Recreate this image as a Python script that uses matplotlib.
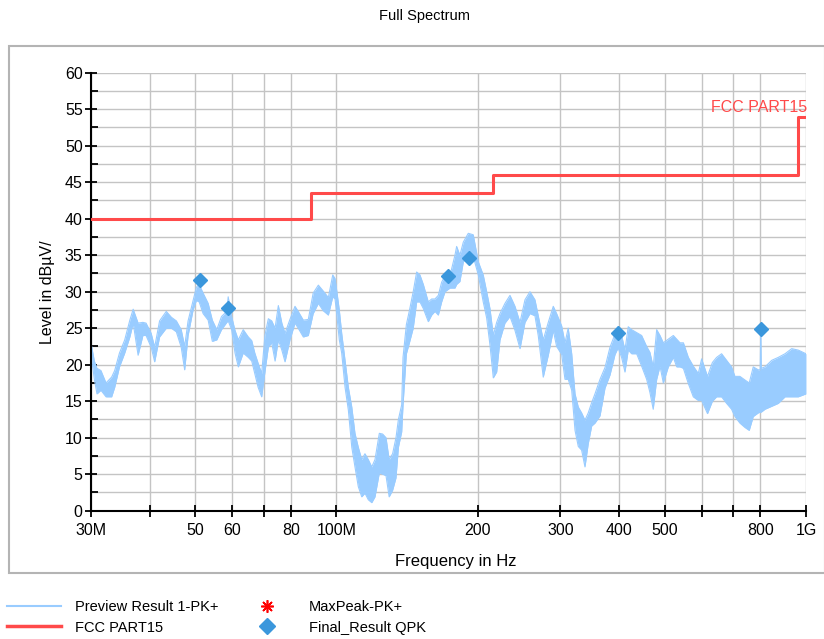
import matplotlib
matplotlib.use("Agg")
import matplotlib.pyplot as plt
from matplotlib.ticker import FixedLocator, MultipleLocator, NullLocator
from matplotlib.lines import Line2D
from matplotlib.patches import Rectangle

plt.rcParams['font.family'] = ['Liberation Sans', 'DejaVu Sans']

# preview trace, read as a lower/upper envelope (MHz, dBuV)
trace_freq = [30.0, 30.5, 30.9, 31.5, 32.3, 33.2, 33.7, 34.5, 35.4, 36.3, 36.9, 37.8,
              38.7, 39.3, 40.3, 41.0, 42.0, 43.4, 44.5, 45.6, 46.7, 47.5, 48.3, 49.5,
              50.3, 51.0, 52.0, 53.3, 54.4, 55.6, 56.9, 58.4, 58.8, 59.8, 60.8, 61.8,
              63.3, 64.9, 66.0, 67.0, 68.1, 69.3, 70.4, 71.6, 72.8, 74.0, 75.2, 76.5,
              77.7, 79.6, 81.6, 82.9, 85.0, 87.1, 89.2, 91.5, 93.7, 96.1, 98.2, 99.3,
              100.1, 101.4, 102.6, 104.3, 106.0, 107.8, 109.5, 111.3, 113.2, 115.0, 116.9, 118.9,
              120.8, 123.4, 125.4, 127.5, 129.5, 131.7, 133.9, 135.5, 137.7, 138.6, 140.9, 143.0,
              145.7, 148.2, 150.6, 153.1, 156.9, 159.5, 162.1, 164.8, 167.5, 170.3, 174.5, 178.8,
              180.3, 183.2, 186.3, 190.9, 195.6, 200.5, 205.4, 208.9, 212.3, 215.8, 219.4, 223.0,
              228.5, 234.2, 240.0, 246.0, 252.1, 258.3, 264.7, 269.0, 275.7, 282.6, 289.6, 294.4,
              301.8, 306.7, 311.6, 317.0, 322.2, 327.4, 332.8, 338.3, 343.8, 349.6, 355.3, 364.2,
              373.2, 382.5, 392.0, 398.0, 404.9, 411.6, 418.3, 425.3, 435.9, 446.7, 457.8, 465.2,
              472.8, 480.9, 488.8, 496.8, 509.1, 521.8, 530.5, 539.2, 548.2, 561.7, 575.5, 589.8,
              599.5, 617.0, 632.0, 645.2, 661.2, 677.6, 694.3, 705.8, 723.3, 741.5, 757.1, 772.2,
              791.4, 799.0, 801.0, 803.0, 818.0, 845.5, 873.0, 902.5, 932.5, 963.1, 1000.0]
trace_low = [21.5, 18.0, 16.0, 16.5, 15.6, 15.6, 16.9, 19.7, 21.6, 23.8, 25.7, 21.3,
             24.0, 24.0, 22.4, 20.4, 23.8, 25.0, 25.0, 24.5, 22.4, 19.3, 24.0, 27.5,
             28.8, 28.6, 27.0, 26.1, 23.2, 23.4, 24.8, 25.8, 26.0, 24.8, 21.6, 19.7,
             21.6, 21.0, 20.5, 18.8, 16.9, 15.6, 19.0, 22.4, 23.0, 20.5, 23.4, 22.0,
             20.4, 23.4, 25.7, 25.0, 23.8, 24.0, 27.0, 28.4, 27.4, 26.8, 29.3, 29.0,
             27.0, 23.4, 21.6, 16.9, 13.8, 8.7, 6.0, 3.3, 1.9, 2.4, 1.5, 1.1,
             1.9, 5.2, 5.0, 4.8, 1.9, 2.8, 4.5, 8.7, 10.8, 14.5, 21.5, 23.0,
             25.0, 28.6, 28.6, 27.7, 25.9, 26.8, 27.3, 26.8, 28.6, 30.0, 30.5, 30.5,
             31.0, 31.4, 34.1, 35.0, 34.8, 32.3, 28.6, 26.4, 22.7, 18.2, 19.0, 23.4,
             25.7, 26.6, 24.7, 22.2, 25.8, 27.0, 26.7, 24.0, 18.3, 21.3, 24.7, 22.5,
             21.4, 18.0, 18.0, 16.5, 11.0, 8.8, 8.3, 6.0, 9.2, 11.6, 12.0, 13.0,
             16.8, 18.6, 21.4, 22.3, 21.0, 19.0, 22.0, 21.5, 21.5, 19.8, 18.0, 16.2,
             13.9, 18.0, 19.8, 17.5, 19.7, 21.0, 19.7, 19.7, 19.5, 17.4, 15.6, 15.1,
             15.1, 13.3, 15.0, 15.6, 15.6, 14.7, 13.9, 12.9, 12.0, 11.4, 11.0, 12.9,
             13.4, 13.5, 13.5, 13.5, 13.9, 14.3, 14.7, 15.6, 15.6, 15.6, 16.0]
trace_high = [23.0, 20.5, 19.5, 19.2, 17.5, 18.3, 19.2, 21.6, 23.4, 26.1, 27.6, 25.7,
              25.8, 25.7, 24.3, 22.4, 26.0, 27.3, 26.5, 26.0, 24.8, 22.5, 26.0, 28.8,
              30.6, 31.0, 29.8, 28.4, 26.1, 24.8, 26.6, 27.3, 29.3, 26.6, 24.7, 23.4,
              24.8, 23.8, 23.3, 21.6, 20.2, 18.8, 24.0, 26.3, 26.0, 25.0, 28.1, 25.7,
              24.3, 26.2, 28.0, 27.3, 26.1, 26.2, 29.8, 30.9, 30.1, 29.2, 32.3, 31.8,
              30.2, 27.5, 24.3, 20.6, 16.9, 14.2, 10.6, 8.7, 7.0, 7.8, 7.0, 6.0,
              7.0, 10.6, 10.5, 10.0, 7.0, 7.8, 10.0, 12.5, 14.5, 21.0, 25.5, 27.4,
              30.0, 32.7, 32.3, 31.0, 28.6, 29.0, 29.0, 29.5, 31.3, 32.2, 32.2, 35.0,
              36.2, 35.0, 36.8, 38.0, 37.8, 34.1, 32.3, 30.0, 27.7, 24.0, 25.8, 27.0,
              28.4, 29.5, 28.0, 25.8, 28.9, 30.0, 28.9, 26.7, 23.4, 25.8, 28.0, 27.0,
              25.3, 23.0, 25.0, 21.5, 16.0, 14.2, 13.4, 12.4, 13.4, 14.8, 16.0, 18.0,
              19.6, 22.4, 24.2, 25.2, 24.0, 22.0, 25.2, 24.8, 24.4, 24.0, 22.5, 21.7,
              19.7, 24.8, 24.0, 23.0, 23.5, 24.0, 23.5, 23.0, 23.0, 21.0, 19.8, 18.8,
              20.8, 18.4, 20.3, 21.0, 21.5, 20.6, 19.7, 18.4, 18.4, 17.9, 17.5, 19.7,
              19.3, 19.3, 24.6, 19.5, 19.7, 20.6, 21.0, 21.5, 22.2, 22.0, 21.5]

# FCC PART15 limit (step edges)
limit_freq = [30, 88.3, 216, 960, 1000]
limit_level = [40, 43.5, 46, 54, 54]

# Final_Result QPK
qpk_freq = [51.2, 58.7, 173, 191.5, 398, 801]
qpk_level = [31.6, 27.8, 32.2, 34.6, 24.4, 24.9]

x_ticks = [30, 40, 50, 60, 70, 80, 100, 200, 300, 400, 500, 600, 700, 800, 1000]
x_labels = ['30M', '', '50', '60', '', '80', '100M', '200', '300', '400', '500', '', '', '800', '1G']

trace_color = '#99ccff'
limit_color = '#ff4a4a'
qpk_color = '#3b97dc'

fig = plt.figure(figsize=(8.24, 6.39), dpi=100)
fig.patches.append(Rectangle((0.011, 0.103), 0.99, 0.825, transform=fig.transFigure,
                             fill=False, edgecolor='#b4b4b4', lw=1.5))
fig.text(0.515, 0.975, 'Full Spectrum', ha='center', va='center', fontsize=10.5)

ax = fig.add_axes([0.1104, 0.2008, 0.8677, 0.6854])
ax.set_xscale('log')
ax.set_xlim(30, 1000)
ax.set_ylim(0, 60)

ax.fill_between(trace_freq, trace_low, trace_high, color=trace_color, lw=0, zorder=2)
ax.plot(trace_freq, trace_high, color=trace_color, lw=0.8, zorder=2)
ax.plot(trace_freq, trace_low, color=trace_color, lw=0.8, zorder=2)
ax.plot(limit_freq, limit_level, drawstyle='steps-post', color=limit_color, lw=2.2, zorder=3)
ax.plot(qpk_freq, qpk_level, 'D', color=qpk_color, ms=7.5, mec=qpk_color, zorder=4)
ax.text(1008, 55.2, 'FCC PART15', color=limit_color, ha='right', va='center', fontsize=11.5)

ax.xaxis.set_major_locator(FixedLocator(x_ticks))
ax.xaxis.set_minor_locator(NullLocator())
ax.set_xticklabels(x_labels)
ax.yaxis.set_major_locator(MultipleLocator(5))
ax.yaxis.set_minor_locator(MultipleLocator(2.5))

ax.grid(True, which='major', color='#c4c4c4', lw=1.0)
ax.grid(True, which='minor', axis='y', color='#c4c4c4', lw=1.0)
ax.set_axisbelow(True)

for s in ['top', 'right']:
    ax.spines[s].set_visible(False)
for s in ['left', 'bottom']:
    ax.spines[s].set_linewidth(1.5)

ax.tick_params(axis='both', which='major', direction='inout', length=8, width=1.3,
               labelsize=11.5, color='black')
ax.tick_params(axis='y', which='minor', direction='in', length=5, width=1.3)
ax.tick_params(axis='x', which='major', pad=5)
ax.tick_params(axis='y', which='major', pad=2)

ax.set_xlabel('Frequency in Hz', fontsize=12)
ax.set_ylabel('Level in dBµV/', fontsize=11.5)
ax.xaxis.set_label_coords(0.51, -0.1)
ax.yaxis.set_label_coords(-0.05, 0.5)

handles = [Line2D([], [], color=trace_color, lw=1.5),
           Line2D([], [], color=limit_color, lw=2.5),
           Line2D([], [], ls='none', marker=(8, 2, 0), color='red', ms=9, mew=1.2),
           Line2D([], [], ls='none', marker='D', color=qpk_color, ms=8)]
labels = ['Preview Result 1-PK+', 'FCC PART15', 'MaxPeak-PK+', 'Final_Result QPK']
fig.legend(handles, labels, ncol=2, loc='upper left', bbox_to_anchor=(0.008, 0.061),
           frameon=False, fontsize=10.5, handlelength=3.7, handletextpad=1.0,
           columnspacing=1.5, labelspacing=0.45, borderpad=0, borderaxespad=0)

fig.savefig('out.png', dpi=100)
